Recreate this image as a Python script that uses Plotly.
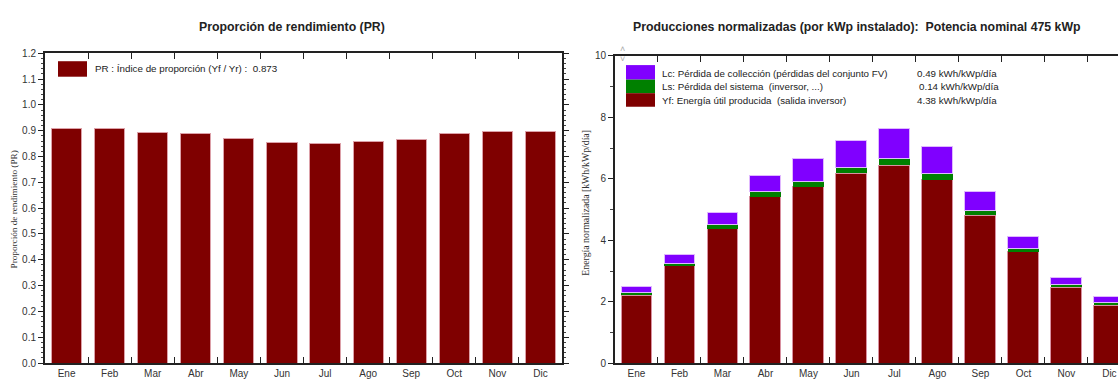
import plotly.graph_objects as go

# Month labels
meses = ["Ene", "Feb", "Mar", "Abr", "May", "Jun", "Jul", "Ago", "Sep", "Oct", "Nov", "Dic"]

# Performance ratio per month
pr = [0.908, 0.908, 0.894, 0.889, 0.869, 0.854, 0.849, 0.857, 0.866, 0.888, 0.895, 0.895]

# Normalized productions [kWh/kWp/día]
yf = [2.21, 3.17, 4.38, 5.42, 5.74, 6.18, 6.44, 5.97, 4.81, 3.62, 2.47, 1.88]
ls = [0.09, 0.09, 0.14, 0.16, 0.17, 0.20, 0.21, 0.20, 0.17, 0.10, 0.08, 0.10]
lc = [0.18, 0.27, 0.40, 0.53, 0.75, 0.88, 1.00, 0.89, 0.62, 0.40, 0.25, 0.18]

W, H = 1118, 383
ROJO, VERDE, VIOLETA = "#7f0000", "#008000", "#8000ff"
FONT = "Liberation Sans, Arial, sans-serif"


def px(x):
    return x / W


def py(y):
    return 1 - y / H


fig = go.Figure()

fig.add_trace(go.Bar(x=meses, y=pr, width=0.70, marker=dict(color=ROJO, line=dict(color="#dca0a8", width=1)),
                     xaxis="x", yaxis="y", showlegend=False))

fig.add_trace(go.Bar(x=meses, y=yf, width=0.72, marker=dict(color=ROJO, line=dict(color="#d890a0", width=1)),
                     xaxis="x2", yaxis="y2", showlegend=False))
fig.add_trace(go.Bar(x=meses, y=ls, width=0.72, marker=dict(color=VERDE, line=dict(color=VERDE, width=0)),
                     xaxis="x2", yaxis="y2", showlegend=False))
fig.add_trace(go.Bar(x=meses, y=lc, width=0.72, marker=dict(color=VIOLETA, line=dict(color="#e0b8ff", width=1)),
                     xaxis="x2", yaxis="y2", showlegend=False))

xcommon = dict(type="category", showline=True, linecolor="#222", linewidth=1.5, ticks="inside", ticklen=6,
               tickcolor="#222", tickson="boundaries", mirror="ticks", showgrid=False,
               tickfont=dict(family=FONT, size=10, color="#333"), fixedrange=True)

fig.update_layout(
    width=W, height=H, margin=dict(l=0, r=0, t=0, b=0),
    paper_bgcolor="white", plot_bgcolor="white", barmode="stack", bargap=0.28,
    xaxis=dict(domain=[px(45), px(562)], anchor="y", range=[-0.5, 11.5], **xcommon),
    yaxis=dict(domain=[py(368.7), py(48.7)], anchor="x", range=[0, 1.2], dtick=0.1, tickformat=".1f",
               showline=True, linecolor="#222", linewidth=2, mirror="allticks", ticks="outside", ticklen=5,
               tickcolor="#222", showgrid=False, zeroline=False,
               minor=dict(dtick=0.02, ticks="outside", ticklen=2, tickcolor="#444"),
               tickfont=dict(family=FONT, size=10, color="#333")),
    xaxis2=dict(domain=[px(615), 1], anchor="y2", range=[-0.5, 11.2], **xcommon),
    yaxis2=dict(domain=[py(368.7), py(51.6)], anchor="x2", range=[0, 10], dtick=2,
                showline=True, linecolor="#222", linewidth=2, mirror=False, ticks="outside", ticklen=5,
                tickcolor="#222", showgrid=False, zeroline=False,
                minor=dict(dtick=1, ticks="outside", ticklen=3, tickcolor="#444"),
                tickfont=dict(family=FONT, size=10, color="#333")),
)


def nota(x, y, text, size=9.75, xanchor="left", family=FONT, color="#222", **kw):
    return dict(x=px(x), y=py(y), xref="paper", yref="paper", xanchor=xanchor, yanchor="middle",
                text=text, showarrow=False, font=dict(family=family, size=size, color=color), **kw)


ann = []
# Titles
ann.append(nota(292, 22, "<b>Proporción de rendimiento (PR)</b>", size=12.3, xanchor="center"))
ann.append(nota(857, 22, "<b>Producciones normalizadas (por kWp instalado):  Potencia nominal 475 kWp</b>",
                size=12.3, xanchor="center"))
# Axis titles
ann.append(nota(14, 210, "Proporción de rendimiento (PR)", size=9.2, xanchor="center",
                family="Liberation Serif, serif", color="#333", textangle=-90))
ann.append(nota(586, 203, "Energía normalizada [kWh/kWp/día]", size=9.8, xanchor="center",
                family="Liberation Serif, serif", color="#333", textangle=-90))

shapes = []
# Legend of the PR chart
shapes.append(dict(type="rect", xref="paper", yref="paper", x0=px(58), x1=px(87), y0=py(73), y1=py(57),
                   fillcolor=ROJO, line=dict(width=0)))
ann.append(nota(93, 65, "PR : Índice de proporción (Yf / Yr) :  0.873", size=9.8))

# Legend of the normalized productions chart
leyenda = [
    (VIOLETA, 61, 76, "Lc: Pérdida de collección (pérdidas del conjunto FV)", "0.49 kWh/kWp/día"),
    (VERDE, 76, 90, "Ls: Pérdida del sistema  (inversor, ...)", "0.14 kWh/kWp/día"),
    (ROJO, 90, 104, "Yf: Energía útil producida  (salida inversor)", "4.38 kWh/kWp/día"),
]
for i, (col, t, b, txt, val) in enumerate(leyenda):
    shapes.append(dict(type="rect", xref="paper", yref="paper", x0=px(626), x1=px(655), y0=py(b), y1=py(t),
                       fillcolor=col, line=dict(width=0)))
    yc = 69.5 + i * 13.8
    ann.append(nota(660, yc, txt))
    ann.append(nota(915 + (2 if i == 1 else 0), yc, val))

# Small scroll arrows next to the top of the right axis
ann.append(nota(622, 44, "˄", size=9, xanchor="center", color="#aaa"))
ann.append(nota(622, 55, "˅", size=9, xanchor="center", color="#aaa"))

fig.update_layout(annotations=ann, shapes=shapes)
fig.write_html("out.html")
